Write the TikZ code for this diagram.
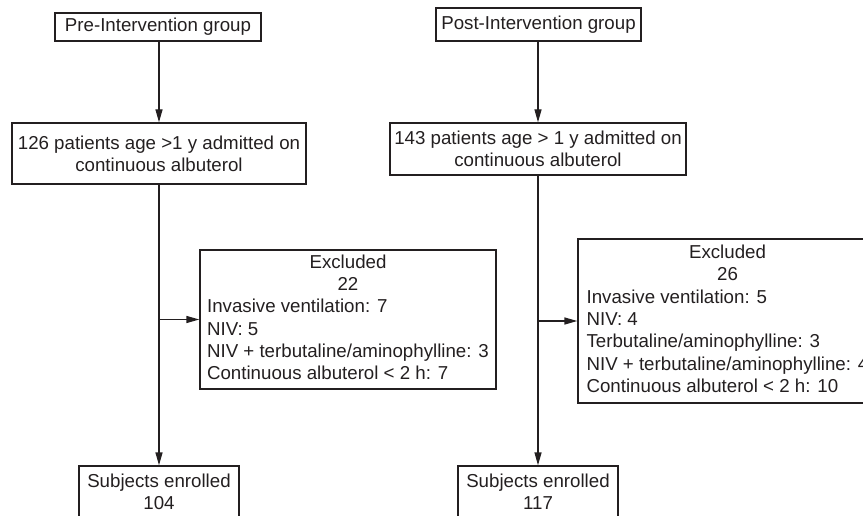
\documentclass[tikz,border=0pt]{standalone}
\usepackage{fontspec}
\setmainfont{Liberation Sans}
\usetikzlibrary{arrows.meta}
\definecolor{ink}{HTML}{231F20}
\begin{document}
\begin{tikzpicture}[x=1pt,y=-1pt,
  box/.style={draw=ink, line width=1.3pt, text=ink, inner sep=0pt, align=center,
    font=\fontsize{18.7}{22.3}\selectfont},
  conn/.style={draw=ink, line width=1.3pt, -{Triangle[length=13pt,width=7pt]}},
  plain/.style={draw=ink, line width=1.3pt}]
\useasboundingbox (0,0) rectangle (863,516);
\clip (0,0) rectangle (863,516);
% left column
\node[box, minimum width=206pt, minimum height=28pt] (pre) at (158,27) {Pre-Intervention group};
\node[box, minimum width=294pt, minimum height=61pt] (a1) at (159,153.5) {126 patients age >1 y admitted on\\continuous albuterol};
\node[box, minimum width=296pt, minimum height=139pt] (ex1) at (348,319.5) {\begin{tabular}{@{}l@{}}\multicolumn{1}{@{}c@{}}{Excluded}\\\multicolumn{1}{@{}c@{}}{22}\\Invasive ventilation: 7\\NIV: 5\\NIV + terbutaline/aminophylline: 3\\Continuous albuterol < 2 h: 7\end{tabular}};
\node[box, minimum width=160pt, minimum height=52pt] (s1) at (159,492) {Subjects enrolled\\104};
% right column
\node[box, minimum width=205pt, minimum height=33pt] (post) at (538.5,24.5) {Post-Intervention group};
\node[box, minimum width=296pt, minimum height=52pt] (a2) at (538,149) {143 patients age > 1 y admitted on\\continuous albuterol};
\node[box, minimum width=299pt, minimum height=164pt] (ex2) at (727.5,321) {\begin{tabular}{@{}l@{}}\multicolumn{1}{@{}c@{}}{Excluded}\\\multicolumn{1}{@{}c@{}}{26}\\Invasive ventilation: 5\\NIV: 4\\Terbutaline/aminophylline: 3\\NIV + terbutaline/aminophylline: 4\\Continuous albuterol < 2 h: 10\end{tabular}};
\node[box, minimum width=160pt, minimum height=52pt] (s2) at (538,492) {Subjects enrolled\\117};
% connectors
\draw[conn] (a1.north |- pre.south) -- (a1.north);
\draw[conn] (a1.south) -- (s1.north);
\coordinate (b1) at (a1.south |- ex1.west);
\draw[conn] (b1) -- (ex1.west);
\draw[conn] (a2.north |- post.south) -- (a2.north);
\draw[conn] (a2.south) -- (s2.north);
\coordinate (b2) at (a2.south |- ex2.west);
\draw[conn] (b2) -- (ex2.west);
\end{tikzpicture}
\end{document}
